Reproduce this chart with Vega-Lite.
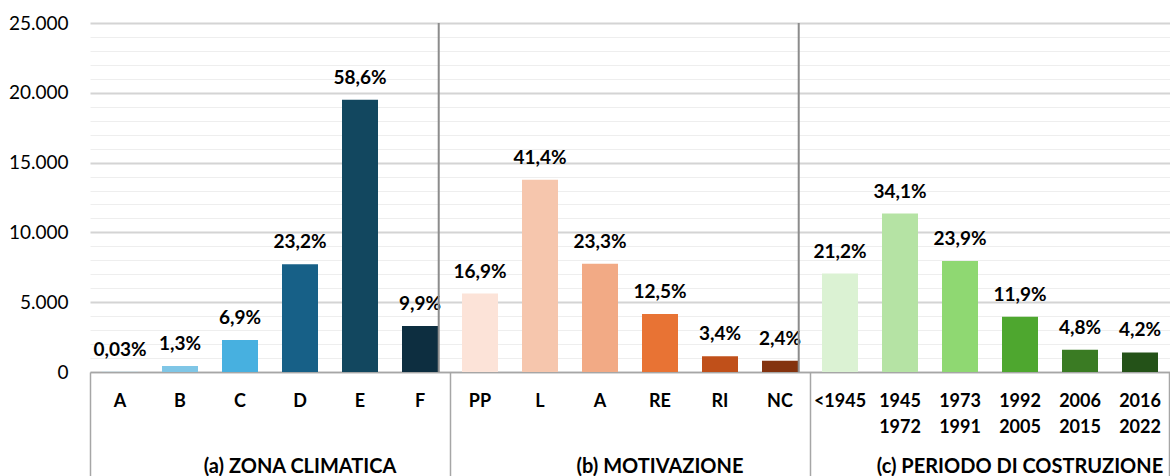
{
  "$schema": "https://vega.github.io/schema/vega-lite/v6.json",
  "width": 1080,
  "height": 349,
  "autosize": {"type": "none"},
  "padding": {"left": 90, "top": 23, "right": 0, "bottom": 104},
  "background": "white",
  "config": {
    "view": {"stroke": null},
    "font": "Lato"
  },
  "datasets": {
    "bars": [
      {"id": "a:A", "value": 10, "pct": "0,03%"},
      {"id": "a:B", "value": 433, "pct": "1,3%"},
      {"id": "a:C", "value": 2296, "pct": "6,9%"},
      {"id": "a:D", "value": 7719, "pct": "23,2%"},
      {"id": "a:E", "value": 19496, "pct": "58,6%"},
      {"id": "a:F", "value": 3294, "pct": "9,9%"},
      {"id": "b:PP", "value": 5623, "pct": "16,9%"},
      {"id": "b:L", "value": 13774, "pct": "41,4%"},
      {"id": "b:A", "value": 7752, "pct": "23,3%"},
      {"id": "b:RE", "value": 4159, "pct": "12,5%"},
      {"id": "b:RI", "value": 1131, "pct": "3,4%"},
      {"id": "b:NC", "value": 798, "pct": "2,4%"},
      {"id": "c:<1945", "value": 7053, "pct": "21,2%"},
      {"id": "c:1945~1972", "value": 11345, "pct": "34,1%"},
      {"id": "c:1973~1991", "value": 7952, "pct": "23,9%"},
      {"id": "c:1992~2005", "value": 3959, "pct": "11,9%"},
      {"id": "c:2006~2015", "value": 1597, "pct": "4,8%"},
      {"id": "c:2016~2022", "value": 1397, "pct": "4,2%"}
    ],
    "seps": [
      {"id": "a:F", "value": 0, "top": 25000},
      {"id": "b:NC", "value": 0, "top": 25000}
    ]
  },
  "resolve": {"axis": {"x": "independent"}},
  "layer": [
    {
      "data": {"name": "bars"},
      "mark": {"type": "bar"},
      "encoding": {
        "x": {
          "field": "id", "type": "nominal", "sort": null,
          "scale": {
            "domain": ["a:A","a:B","a:C","a:D","a:E","a:F","b:PP","b:L","b:A","b:RE","b:RI","b:NC","c:<1945","c:1945~1972","c:1973~1991","c:1992~2005","c:2006~2015","c:2016~2022"],
            "paddingInner": 0.4, "paddingOuter": 0.2
          },
          "axis": {
            "orient": "bottom", "title": null, "ticks": false, "grid": false,
            "domain": true, "domainColor": "#a6a6a6", "domainWidth": 1.5,
            "labelExpr": "split(substring(datum.value, 2), '~')",
            "labelAngle": 0, "labelAlign": "center", "labelBaseline": "top",
            "labelPadding": 20, "labelLineHeight": 26, "labelLimit": 0,
            "labelFont": "Lato", "labelFontSize": 18, "labelFontWeight": "bold", "labelColor": "#000000"
          }
        },
        "y": {
          "field": "value", "type": "quantitative",
          "scale": {"domain": [0, 25000], "nice": false, "zero": true},
          "axis": {
            "title": null, "ticks": false, "domain": false,
            "values": [0,1000,2000,3000,4000,5000,6000,7000,8000,9000,10000,11000,12000,13000,14000,15000,16000,17000,18000,19000,20000,21000,22000,23000,24000,25000],
            "grid": true,
            "gridColor": {"condition": {"test": "datum.value % 5000 === 0", "value": "#d4d4d4"}, "value": "#eeeeee"},
            "gridWidth": {"condition": {"test": "datum.value % 5000 === 0", "value": 1.8}, "value": 1},
            "labelExpr": "datum.value % 5000 === 0 ? replace(format(datum.value, ','), ',', '.') : ''",
            "labelOverlap": false,
            "labelPadding": 22, "labelFont": "Lato", "labelFontSize": 19, "labelColor": "#000000"
          }
        },
        "color": {
          "field": "id", "type": "nominal", "legend": null,
          "scale": {
            "domain": ["a:A","a:B","a:C","a:D","a:E","a:F","b:PP","b:L","b:A","b:RE","b:RI","b:NC","c:<1945","c:1945~1972","c:1973~1991","c:1992~2005","c:2006~2015","c:2016~2022"],
            "range": ["#b9e2f4","#7fc6e6","#47b0e0","#176087","#12475f","#0d2e40","#fce3d8","#f6c6ad","#f2aa85","#e87334","#c0501a","#84330f","#dbf2d3","#b5e3a4","#8fd872","#4ea72f","#3a7b23","#245218"]
          }
        }
      }
    },
    {
      "data": {"name": "bars"},
      "mark": {"type": "text", "font": "Lato", "fontSize": 19, "fontWeight": "bold", "color": "#000000", "baseline": "alphabetic", "align": "center", "dy": -16},
      "encoding": {
        "x": {
          "field": "id", "type": "nominal", "sort": null,
          "axis": {
            "orient": "bottom", "title": null, "grid": false, "domain": false,
            "values": ["a:A", "b:PP", "c:<1945"],
            "bandPosition": -0.3333,
            "ticks": true, "tickSize": 104, "tickColor": "#a6a6a6", "tickWidth": 1.5,
            "labelExpr": "datum.value == 'a:A' ? '(a) ZONA CLIMATICA' : datum.value == 'b:PP' ? '(b) MOTIVAZIONE' : '(c) PERIODO DI COSTRUZIONE'",
            "labelOffset": 180, "labelAngle": 0, "labelAlign": "center", "labelBaseline": "top",
            "labelLimit": 0, "labelOverlap": false,
            "labelPadding": -20, "labelFont": "Lato", "labelFontSize": 20, "labelFontWeight": "bold", "labelColor": "#000000"
          }
        },
        "y": {
          "field": "value", "type": "quantitative",
          "scale": {"domain": [0, 25000], "nice": false, "zero": true},
          "axis": {
            "title": null, "ticks": false, "domain": false,
            "values": [0,1000,2000,3000,4000,5000,6000,7000,8000,9000,10000,11000,12000,13000,14000,15000,16000,17000,18000,19000,20000,21000,22000,23000,24000,25000],
            "grid": true,
            "gridColor": {"condition": {"test": "datum.value % 5000 === 0", "value": "#d4d4d4"}, "value": "#eeeeee"},
            "gridWidth": {"condition": {"test": "datum.value % 5000 === 0", "value": 1.8}, "value": 1},
            "labelExpr": "datum.value % 5000 === 0 ? replace(format(datum.value, ','), ',', '.') : ''",
            "labelOverlap": false,
            "labelPadding": 22, "labelFont": "Lato", "labelFontSize": 19, "labelColor": "#000000"
          }
        },
        "text": {"field": "pct"}
      }
    },
    {
      "data": {"name": "seps"},
      "mark": {"type": "rule", "color": "#8c8c8c", "strokeWidth": 2},
      "encoding": {
        "x": {
          "field": "id", "type": "nominal", "sort": null, "bandPosition": 1.02,
          "axis": {
            "orient": "bottom", "title": null, "grid": false, "domain": false, "labels": false,
            "values": ["c:2016~2022"], "bandPosition": 1.3333,
            "ticks": true, "tickSize": 104, "tickColor": "#a6a6a6", "tickWidth": 1.5
          }
        },
        "y": {
          "field": "value", "type": "quantitative",
          "scale": {"domain": [0, 25000], "nice": false, "zero": true},
          "axis": {
            "title": null, "ticks": false, "domain": false,
            "values": [0,1000,2000,3000,4000,5000,6000,7000,8000,9000,10000,11000,12000,13000,14000,15000,16000,17000,18000,19000,20000,21000,22000,23000,24000,25000],
            "grid": true,
            "gridColor": {"condition": {"test": "datum.value % 5000 === 0", "value": "#d4d4d4"}, "value": "#eeeeee"},
            "gridWidth": {"condition": {"test": "datum.value % 5000 === 0", "value": 1.8}, "value": 1},
            "labelExpr": "datum.value % 5000 === 0 ? replace(format(datum.value, ','), ',', '.') : ''",
            "labelOverlap": false,
            "labelPadding": 22, "labelFont": "Lato", "labelFontSize": 19, "labelColor": "#000000"
          }
        },
        "y2": {"field": "top"}
      }
    }
  ]
}
